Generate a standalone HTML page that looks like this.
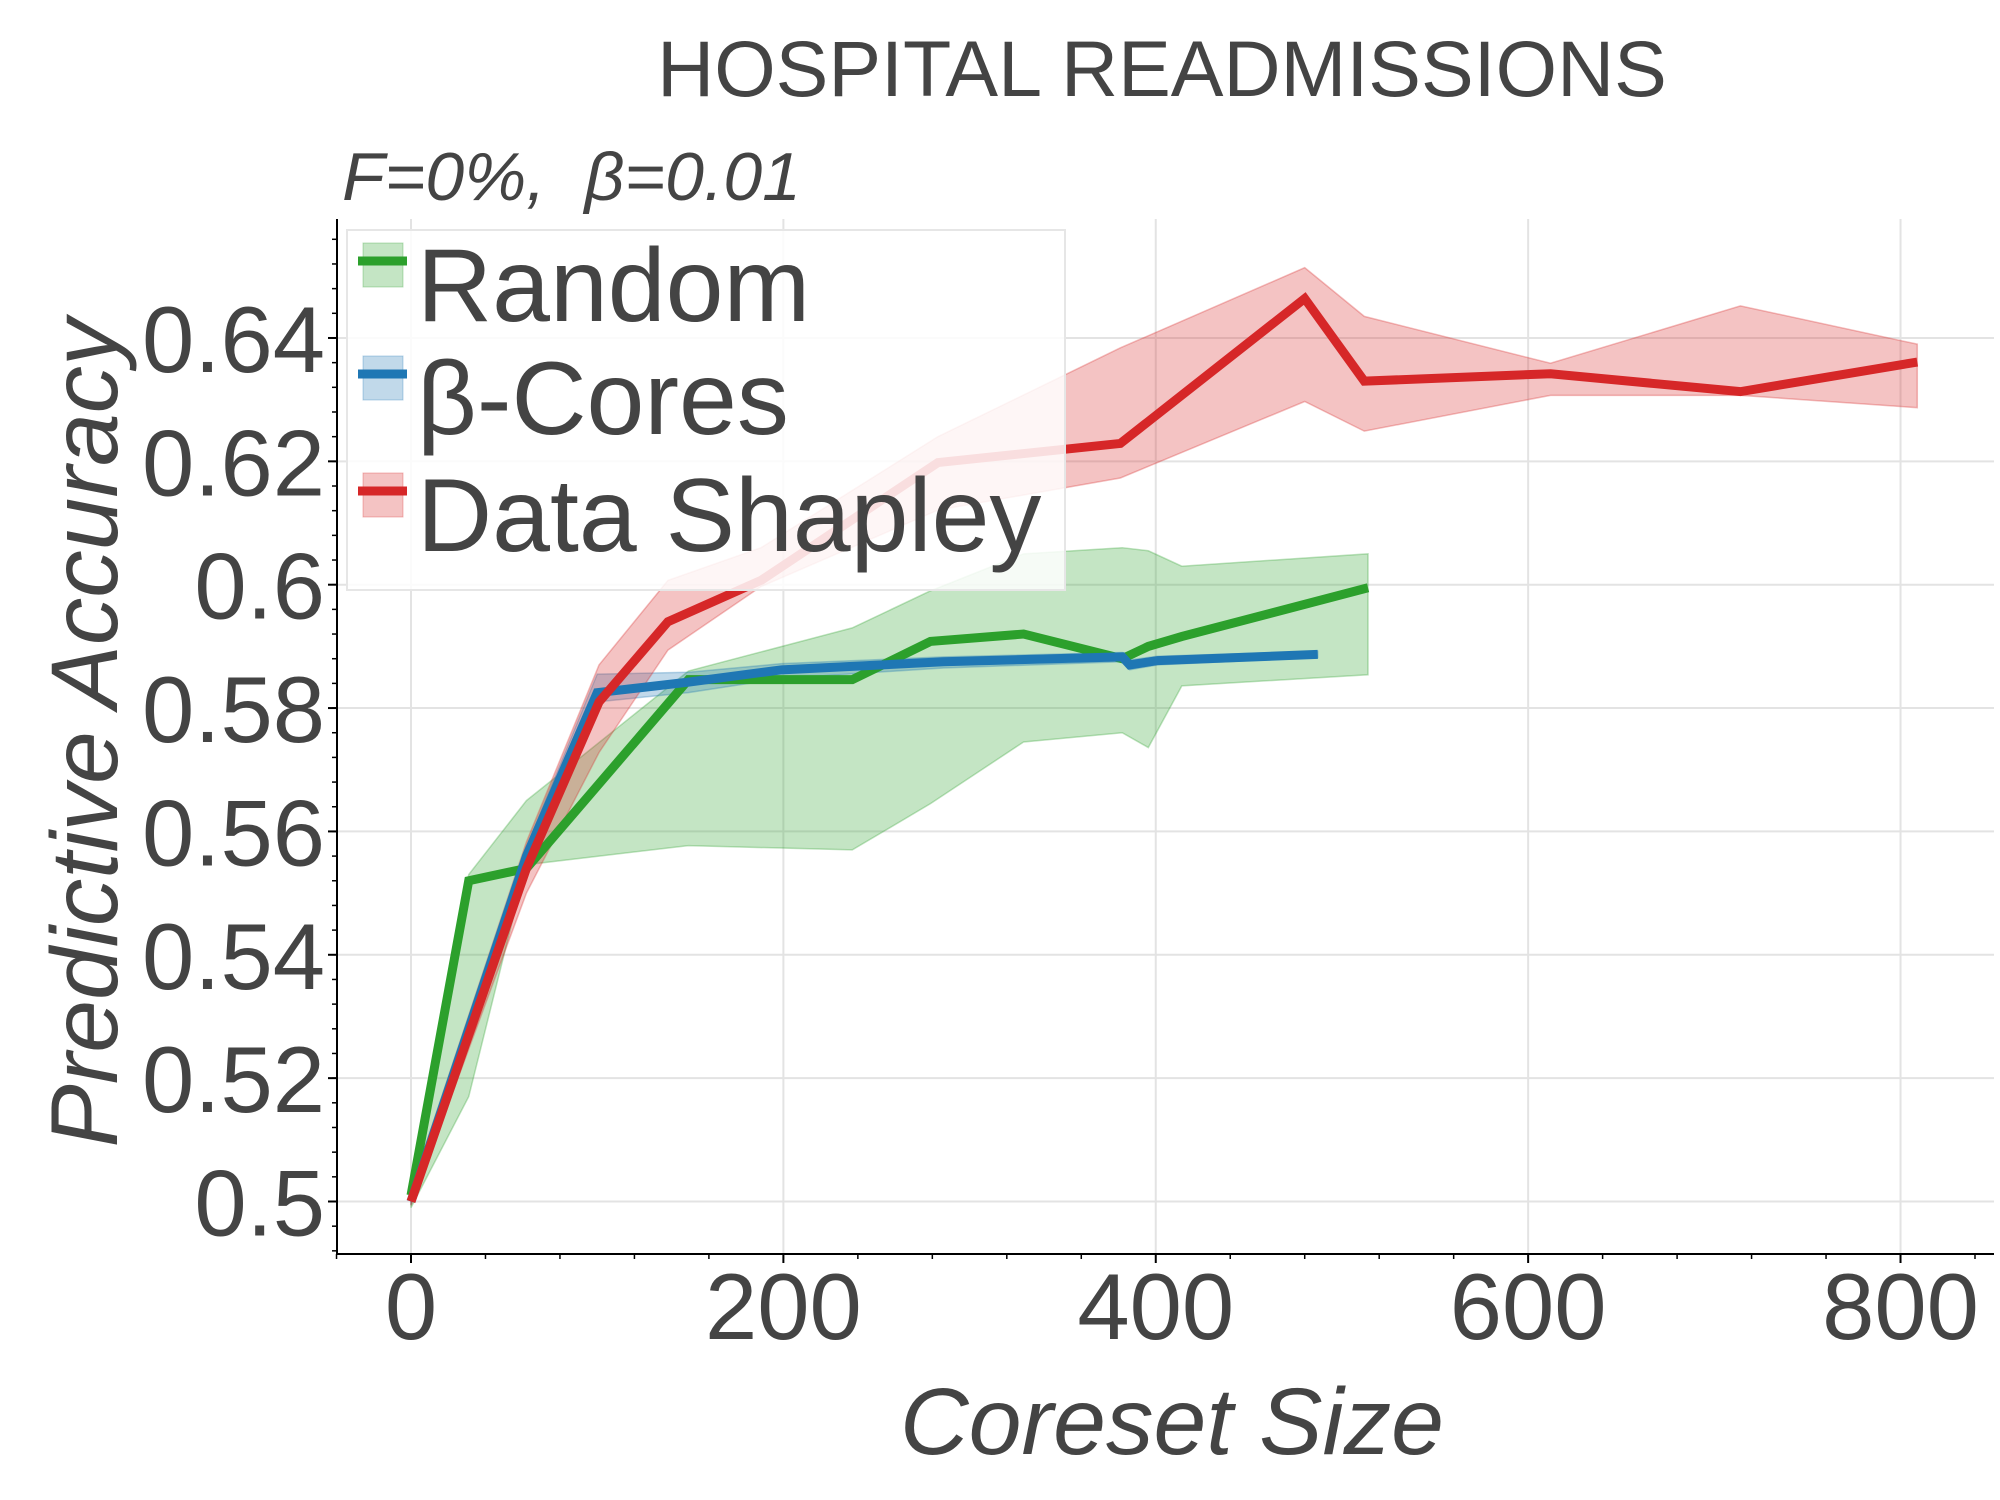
<!DOCTYPE html>
<html><head><meta charset="utf-8"><style>
html,body{margin:0;padding:0;background:#fff;}
svg{display:block;font-family:"Liberation Sans",sans-serif;}
</style></head><body>
<svg id="chart" width="2000" height="1500" viewBox="0 0 2000 1500" xmlns="http://www.w3.org/2000/svg">
<g id="grid"></g>
<g id="bands"></g>
<g id="lines"></g>
<g id="axes"></g>
<text x="1162" y="96" font-size="79" fill="#444" text-anchor="middle">HOSPITAL READMISSIONS</text>
<text x="342" y="200" font-size="68" font-style="italic" fill="#444" textLength="459" lengthAdjust="spacingAndGlyphs" xml:space="preserve">F=0%,  β=0.01</text>
<text x="1172" y="1454" font-size="95" font-style="italic" fill="#444" text-anchor="middle" textLength="544" lengthAdjust="spacingAndGlyphs">Coreset Size</text>
<text transform="translate(117,733) rotate(-90)" font-size="95" font-style="italic" fill="#444" text-anchor="middle" textLength="829" lengthAdjust="spacingAndGlyphs">Predictive Accuracy</text>
<g id="legend">
<rect x="347" y="230" width="718" height="360" fill="#fff" fill-opacity="0.85" stroke="#e6e6e6" stroke-width="2"/>
</g>
</svg>
<script>
const randomX=[0,31,62,149,237,279,329,382,396,414,514];
const randomY=[0.501,0.552,0.554,0.5846,0.5846,0.5908,0.592,0.588,0.590,0.5916,0.5995];
const randomUp=[0.502,0.553,0.565,0.586,0.593,0.599,0.605,0.606,0.6055,0.603,0.605];
const randomLo=[0.499,0.517,0.5546,0.5577,0.557,0.5645,0.5745,0.576,0.5736,0.5836,0.5854];
const coresX=[0,62,100,149,199,286,382,386,401,487];
const coresY=[0.5,0.556,0.5825,0.5842,0.5862,0.5875,0.5883,0.587,0.5877,0.5887];
const coresUp=[0.5005,0.5575,0.5855,0.5858,0.5872,0.5883,0.589,0.5878,0.5884,0.5892];
const coresLo=[0.4995,0.5545,0.581,0.5825,0.5848,0.5865,0.5875,0.5862,0.587,0.5882];
const shapX=[0,62,101,138,188,283,381,480,512,612,714,809];
const shapY=[0.5,0.554,0.581,0.594,0.6007,0.6198,0.6229,0.6464,0.633,0.6342,0.6313,0.6361];
const shapUp=[0.502,0.5583,0.587,0.6007,0.606,0.624,0.6384,0.6514,0.6435,0.6359,0.6452,0.639];
const shapLo=[0.4994,0.550,0.5728,0.5894,0.5997,0.6121,0.6173,0.6297,0.6249,0.6307,0.6307,0.6287];
const yTicks=[0.5,0.52,0.54,0.56,0.58,0.6,0.62,0.64];
const yTickLabels=["0.5","0.52","0.54","0.56","0.58","0.6","0.62","0.64"];
const xTicks=[0,200,400,600,800];
const xTickLabels=["0","200","400","600","800"];
const seriesNames=["Random","β-Cores","Data Shapley"];

const NS="http://www.w3.org/2000/svg";
const sx=v=>411+v*1.8619;
const sy=v=>1201.5-(v-0.5)*6168;
const L=337,R=1994,T=219,B=1254;
function mk(tag,attrs,parent){const e=document.createElementNS(NS,tag);for(const k in attrs)e.setAttribute(k,attrs[k]);parent.appendChild(e);return e;}
const grid=document.getElementById('grid'),axes=document.getElementById('axes'),bands=document.getElementById('bands'),lines=document.getElementById('lines');
yTicks.forEach((v,i)=>{
  const g=mk('line',{x1:L,x2:R,y1:sy(v),y2:sy(v),stroke:'#e3e3e3','stroke-width':2},grid);
  
  
  const t=mk('line',{x1:L-9,x2:L,y1:sy(v),y2:sy(v),stroke:'#000','stroke-width':2},axes);
  
  
  const tx=mk('text',{x:325,y:sy(v)+34,'font-size':94,fill:'#444','text-anchor':'end'},axes);
  tx.textContent=yTickLabels[i];
  
  
});
for(let v=0.492;v<0.659;v+=0.004){
  const t=mk('line',{x1:L-5,x2:L,y1:sy(v),y2:sy(v),stroke:'#000','stroke-width':1.5},axes);
  
  
}
xTicks.forEach((v,i)=>{
  const g=mk('line',{x1:sx(v),x2:sx(v),y1:T,y2:B,stroke:'#e3e3e3','stroke-width':2},grid);
  
  
  const t=mk('line',{x1:sx(v),x2:sx(v),y1:B,y2:B+9,stroke:'#000','stroke-width':2},axes);
  
  
  const tx=mk('text',{x:sx(v),y:1339,'font-size':94,fill:'#444','text-anchor':'middle'},axes);
  tx.textContent=xTickLabels[i];
  
  
});
for(let v=-40;v<=840;v+=40){
  const t=mk('line',{x1:sx(v),x2:sx(v),y1:B,y2:B+5,stroke:'#000','stroke-width':1.5},axes);
  
  
}
const sp1=mk('line',{x1:L,x2:L,y1:T,y2:B+1,stroke:'#000','stroke-width':2},axes);


const sp2=mk('line',{x1:L-1,x2:R,y1:B,y2:B,stroke:'#000','stroke-width':2},axes);



const series=[
 {x:randomX,y:randomY,u:randomUp,l:randomLo,c:'#2ca02c',n:'random'},
 {x:coresX,y:coresY,u:coresUp,l:coresLo,c:'#1f77b4',n:'beta-cores'},
 {x:shapX,y:shapY,u:shapUp,l:shapLo,c:'#d62728',n:'data-shapley'}
];
series.forEach(s=>{
  let d='M'+s.x.map((v,i)=>sx(v)+','+sy(s.u[i])).join('L');
  for(let i=s.x.length-1;i>=0;i--)d+='L'+sx(s.x[i])+','+sy(s.l[i]);
  const b=mk('path',{d:d+'Z',fill:s.c,'fill-opacity':0.28,stroke:s.c,'stroke-opacity':0.3,'stroke-width':1.5},bands);
  
  
});
series.forEach(s=>{
  const p=mk('polyline',{points:s.x.map((v,i)=>sx(v)+','+sy(s.y[i])).join(' '),fill:'none',stroke:s.c,'stroke-width':9,'stroke-linejoin':'miter'},lines);
  
  
});
const leg=document.getElementById('legend');
const legColors=['#2ca02c','#1f77b4','#d62728'];
const legBase=[321,434,551];
seriesNames.forEach((n,i)=>{
  const cy=legBase[i]-56;
  const r=mk('rect',{x:363,y:cy-22,width:40,height:44,fill:legColors[i],'fill-opacity':0.28,stroke:legColors[i],'stroke-opacity':0.3},leg);
  
  
  const l=mk('line',{x1:358,x2:407,y1:cy-4,y2:cy-4,stroke:legColors[i],'stroke-width':9},leg);
  
  
  const t=mk('text',{x:417,y:legBase[i],'font-size':104,fill:'#444'},leg);
  t.textContent=n;
  
  
});
</script>
</body></html>
